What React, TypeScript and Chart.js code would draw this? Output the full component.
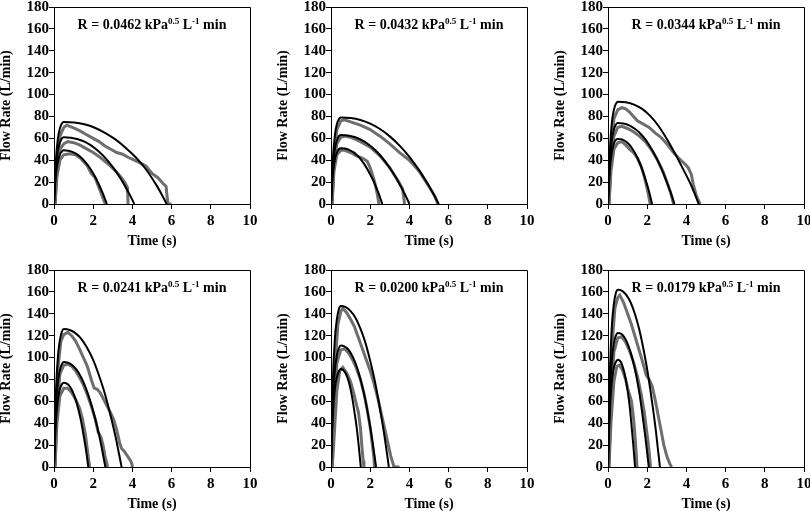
import React, { useEffect, useRef } from 'react';
import { Chart, registerables } from 'chart.js';

Chart.register(...registerables);

type Pt = [number, number];

const xTicks = [0, 2, 4, 6, 8, 10];
const yTicks = [0, 20, 40, 60, 80, 100, 120, 140, 160, 180];
const rValues = ['0.0462', '0.0432', '0.0344', '0.0241', '0.0200', '0.0179'];
const xTitle = 'Time (s)';
const yTitle = 'Flow Rate (L/min)';

// ---- Panel 1 (R = 0.0462) ----
const p1FitHigh: Pt[] = [[0,0],[0.05,22],[0.1,41],[0.2,60],[0.3,69],[0.4,73.5],[0.5,75],[1.03,74.5],[1.55,72.8],[2.08,69.7],[2.6,65],[3.13,59],[3.65,51.5],[4.18,42.5],[4.7,31.5],[5.23,17],[5.49,9],[5.75,0]];
const p1FitMid: Pt[] = [[0,0],[0.05,18],[0.1,33.5],[0.2,49],[0.3,56],[0.4,60],[0.5,61],[0.86,60.6],[1.22,59.2],[1.58,56.7],[1.94,52.9],[2.3,47.7],[2.66,41.2],[3.02,33.2],[3.38,23.7],[3.74,12.6],[3.92,6.5],[4.1,0]];
const p1FitLow: Pt[] = [[0,0],[0.05,15],[0.1,27],[0.2,39],[0.3,45],[0.4,48],[0.5,49],[0.72,48.7],[0.94,47.6],[1.16,45.5],[1.38,42.5],[1.6,38.3],[1.82,33.1],[2.04,26.7],[2.26,19],[2.48,10.1],[2.7,0]];
const p1MeasHigh: Pt[] = [[0.05,0],[0.15,35],[0.3,62],[0.5,70],[0.65,72],[0.8,71],[1.0,69.5],[1.3,67],[1.6,64],[2.0,60],[2.3,57],[2.6,53],[2.9,50],[3.2,47],[3.5,45.5],[3.8,42.5],[4.1,40],[4.4,37.5],[4.7,34.5],[5.0,28],[5.3,24],[5.55,19],[5.72,16],[5.78,5],[5.82,0],[6.0,0]];
const p1MeasMid: Pt[] = [[0.05,0],[0.15,30],[0.3,50],[0.5,55],[0.7,57],[1.0,56],[1.3,54],[1.6,51],[2.0,47],[2.4,42],[2.8,36],[3.1,31],[3.4,25],[3.6,20],[3.75,15],[3.78,0]];
const p1MeasLow: Pt[] = [[0.05,0],[0.15,25],[0.3,40],[0.5,45],[0.8,46],[1.1,45],[1.4,41],[1.7,35],[1.9,28],[2.0,26],[2.1,24],[2.25,17],[2.4,10],[2.55,3],[2.62,0]];

// ---- Panel 2 (R = 0.0432) ----
const p2FitHigh: Pt[] = [[0,0],[0.05,24],[0.1,43],[0.2,63],[0.3,73],[0.4,77.5],[0.5,79],[1.0,78.5],[1.5,76.7],[2.0,73.4],[2.5,68.5],[3.0,61.8],[3.5,53.3],[4.0,43],[4.5,30.7],[5.0,16.4],[5.25,8.5],[5.5,0]];
const p2FitMid: Pt[] = [[0,0],[0.05,19],[0.1,34.5],[0.2,50.5],[0.3,58],[0.4,62],[0.5,63],[0.85,62.6],[1.2,61.2],[1.55,58.5],[1.9,54.6],[2.25,49.3],[2.6,42.5],[2.95,34.3],[3.3,24.4],[3.65,13],[3.83,6.7],[4.0,0]];
const p2FitLow: Pt[] = [[0,0],[0.05,15.5],[0.1,28],[0.2,41],[0.3,47],[0.4,50],[0.5,51],[0.71,50.7],[0.92,49.5],[1.14,47.4],[1.35,44.2],[1.56,39.9],[1.77,34.4],[1.98,27.7],[2.2,19.8],[2.41,10.6],[2.62,0]];
const p2MeasHigh: Pt[] = [[0.05,0],[0.15,40],[0.3,68],[0.5,76],[0.7,77],[1.0,75],[1.5,72],[2.0,68],[2.5,62],[3.0,55],[3.5,47],[4.0,40],[4.5,30],[5.0,16],[5.3,7],[5.45,0]];
const p2MeasMid: Pt[] = [[0.05,0],[0.15,35],[0.3,55],[0.5,61],[0.7,62],[1.0,61],[1.5,57],[2.0,52],[2.5,44],[3.0,33],[3.4,22],[3.65,14],[3.72,5],[3.75,0]];
const p2MeasLow: Pt[] = [[0.05,0],[0.15,30],[0.3,45],[0.5,49],[0.7,49],[1.0,47],[1.3,44],[1.6,42],[1.85,39],[2.0,33],[2.2,22],[2.35,10],[2.45,0]];

// ---- Panel 3 (R = 0.0344) ----
const p3FitHigh: Pt[] = [[0,0],[0.05,28],[0.1,51],[0.2,75],[0.3,86],[0.4,91.5],[0.5,93.5],[0.91,92.9],[1.33,90.8],[1.74,86.9],[2.15,80.5],[2.57,71.5],[2.98,60],[3.39,47],[3.8,33],[4.22,18],[4.42,9.5],[4.63,0]];
const p3FitMid: Pt[] = [[0,0],[0.05,22],[0.1,40.5],[0.2,59],[0.3,68],[0.4,72.5],[0.5,74],[0.79,73.6],[1.08,71.9],[1.37,68.7],[1.66,64.2],[1.95,57.9],[2.23,50],[2.52,40.3],[2.81,28.7],[3.1,15.3],[3.25,7.9],[3.39,0]];
const p3FitLow: Pt[] = [[0,0],[0.05,18],[0.1,33],[0.2,47.5],[0.3,55],[0.4,58.5],[0.5,59.5],[0.68,59.1],[0.85,57.8],[1.03,55.3],[1.2,51.6],[1.38,46.5],[1.55,40.2],[1.73,32.4],[1.9,23.1],[2.08,12.3],[2.25,0]];
const p3MeasHigh: Pt[] = [[0.05,0],[0.15,45],[0.3,78],[0.5,86],[0.7,88],[0.9,87],[1.1,84],[1.3,80],[1.5,76],[1.8,73],[2.1,70],[2.4,65],[2.7,61],[3.0,55],[3.3,48],[3.6,42],[3.9,37],[4.1,33],[4.25,27],[4.35,18],[4.5,8],[4.65,2],[4.7,0]];
const p3MeasMid: Pt[] = [[0.05,0],[0.15,38],[0.3,62],[0.5,70],[0.7,71],[1.0,69],[1.3,66],[1.6,62],[1.9,57],[2.2,50],[2.5,41],[2.8,30],[3.05,18],[3.2,10],[3.3,3],[3.35,0]];
const p3MeasLow: Pt[] = [[0.05,0],[0.15,30],[0.3,50],[0.5,56],[0.7,57],[0.9,54],[1.1,50],[1.3,47],[1.5,42],[1.7,34],[1.85,25],[2.0,14],[2.1,5],[2.15,0]];

// ---- Panel 4 (R = 0.0241) ----
const p4FitHigh: Pt[] = [[0,0],[0.05,38],[0.1,69],[0.2,101],[0.3,116],[0.4,123.5],[0.5,126],[0.8,125.2],[1.09,122.3],[1.39,117.1],[1.68,109.2],[1.98,98.5],[2.27,85],[2.57,68.5],[2.86,48.9],[3.16,26.1],[3.3,13.5],[3.45,0]];
const p4FitMid: Pt[] = [[0,0],[0.05,29],[0.1,53],[0.2,77],[0.3,88.5],[0.4,94],[0.5,96],[0.71,95.4],[0.92,93.2],[1.14,89.2],[1.35,83.2],[1.56,75.1],[1.77,64.8],[1.98,52.2],[2.2,37.2],[2.41,19.9],[2.62,0]];
const p4FitLow: Pt[] = [[0,0],[0.05,23],[0.1,42],[0.2,61.5],[0.3,71],[0.4,75.5],[0.5,77],[0.63,76.5],[0.75,74.8],[0.88,71.5],[1.0,66.8],[1.13,60.2],[1.25,52],[1.38,41.9],[1.5,29.9],[1.63,15.9],[1.75,0]];
const p4MeasHigh: Pt[] = [[0.05,0],[0.1,40],[0.2,90],[0.35,115],[0.5,121],[0.7,123],[0.9,120],[1.1,115],[1.3,108],[1.5,100],[1.7,92],[1.9,80],[2.05,72],[2.2,71],[2.35,68],[2.5,63],[2.7,56],[2.9,49],[3.05,43],[3.2,34],[3.35,22],[3.45,17],[3.6,14],[3.75,10],[3.9,6],[3.97,3],[4.0,0]];
const p4MeasMid: Pt[] = [[0.05,0],[0.15,50],[0.3,85],[0.5,93],[0.7,94],[0.9,92],[1.1,88],[1.3,82],[1.5,75],[1.7,66],[1.9,56],[2.1,44],[2.25,32],[2.4,27],[2.5,20],[2.6,10],[2.7,3],[2.73,0]];
const p4MeasLow: Pt[] = [[0.05,0],[0.15,40],[0.3,65],[0.5,72],[0.7,72],[0.9,68],[1.1,62],[1.3,54],[1.45,44],[1.6,30],[1.7,16],[1.78,5],[1.82,0]];

// ---- Panel 5 (R = 0.0200) ----
const p5FitHigh: Pt[] = [[0,0],[0.05,44],[0.1,81],[0.2,118],[0.3,135],[0.4,144],[0.5,147],[0.75,146.1],[0.99,142.7],[1.24,136.6],[1.48,127.4],[1.73,115],[1.97,99.2],[2.22,80],[2.46,57],[2.71,30.4],[2.83,15.7],[2.95,0]];
const p5FitMid: Pt[] = [[0,0],[0.05,33],[0.1,61],[0.2,89],[0.3,102],[0.4,108.5],[0.5,111],[0.68,110.3],[0.86,107.8],[1.04,103.1],[1.22,96.2],[1.4,86.8],[1.58,74.9],[1.76,60.4],[1.94,43.1],[2.12,23],[2.3,0]];
const p5FitLow: Pt[] = [[0,0],[0.05,27],[0.1,49],[0.2,72],[0.3,82],[0.4,87.5],[0.5,89.5],[0.6,89],[0.7,86.9],[0.81,83.1],[0.91,77.6],[1.01,70],[1.11,60.4],[1.21,48.7],[1.32,34.7],[1.42,18.5],[1.52,0]];
const p5MeasHigh: Pt[] = [[0.05,0],[0.1,30],[0.2,90],[0.35,130],[0.5,142],[0.6,145],[0.8,141],[1.0,135],[1.2,128],[1.4,118],[1.6,108],[1.8,98],[2.0,88],[2.2,76],[2.4,62],[2.6,46],[2.8,30],[2.95,18],[3.05,10],[3.15,4],[3.2,1],[3.3,0],[3.5,0]];
const p5MeasMid: Pt[] = [[0.05,0],[0.15,50],[0.3,95],[0.5,107],[0.7,108],[0.9,104],[1.1,98],[1.3,90],[1.5,80],[1.7,66],[1.85,52],[2.0,36],[2.1,22],[2.18,10],[2.22,0]];
const p5MeasLow: Pt[] = [[0.05,0],[0.1,10],[0.2,40],[0.3,70],[0.45,88],[0.6,91],[0.8,86],[1.0,78],[1.15,68],[1.3,57],[1.4,50],[1.5,36],[1.58,18],[1.64,6],[1.68,0]];

// ---- Panel 6 (R = 0.0179) ----
const p6FitHigh: Pt[] = [[0,0],[0.05,49],[0.1,89],[0.2,130],[0.3,149],[0.4,159],[0.5,162],[0.72,161],[0.93,157.3],[1.15,150.5],[1.36,140.5],[1.58,126.7],[1.79,109.4],[2.01,88.1],[2.22,62.9],[2.44,33.5],[2.54,17.3],[2.65,0]];
const p6FitMid: Pt[] = [[0,0],[0.05,37],[0.1,67],[0.2,98],[0.3,113],[0.4,120],[0.5,122.5],[0.66,121.8],[0.82,119],[0.97,113.8],[1.13,106.2],[1.29,95.8],[1.45,82.7],[1.61,66.6],[1.76,47.5],[1.92,25.4],[2.08,0]];
const p6FitLow: Pt[] = [[0,0],[0.05,29],[0.1,54],[0.2,79],[0.3,91],[0.4,96],[0.5,98],[0.59,97.4],[0.68,95.2],[0.76,91],[0.85,85],[0.94,76.6],[1.03,66.2],[1.12,53.3],[1.2,38],[1.29,20.3],[1.38,0]];
const p6MeasHigh: Pt[] = [[0.05,0],[0.1,40],[0.2,110],[0.35,145],[0.5,155],[0.6,157],[0.8,150],[1.0,140],[1.2,130],[1.4,118],[1.6,106],[1.8,94],[1.95,84],[2.1,80],[2.25,74],[2.4,62],[2.55,48],[2.7,34],[2.85,20],[3.0,10],[3.15,3],[3.25,0]];
const p6MeasMid: Pt[] = [[0.05,0],[0.15,60],[0.3,105],[0.5,118],[0.7,119],[0.9,114],[1.1,106],[1.3,96],[1.5,83],[1.7,66],[1.85,50],[1.95,36],[2.05,22],[2.12,10],[2.17,0]];
const p6MeasLow: Pt[] = [[0.05,0],[0.15,40],[0.3,78],[0.45,92],[0.6,93],[0.75,88],[0.9,80],[1.0,72],[1.1,66],[1.2,60],[1.3,45],[1.38,28],[1.44,12],[1.48,0]];

const panels = [
  { r: rValues[0], fits: [p1FitHigh, p1FitMid, p1FitLow], meas: [p1MeasHigh, p1MeasMid, p1MeasLow], col: 0, row: 0 },
  { r: rValues[1], fits: [p2FitHigh, p2FitMid, p2FitLow], meas: [p2MeasHigh, p2MeasMid, p2MeasLow], col: 1, row: 0 },
  { r: rValues[2], fits: [p3FitHigh, p3FitMid, p3FitLow], meas: [p3MeasHigh, p3MeasMid, p3MeasLow], col: 2, row: 0 },
  { r: rValues[3], fits: [p4FitHigh, p4FitMid, p4FitLow], meas: [p4MeasHigh, p4MeasMid, p4MeasLow], col: 0, row: 1 },
  { r: rValues[4], fits: [p5FitHigh, p5FitMid, p5FitLow], meas: [p5MeasHigh, p5MeasMid, p5MeasLow], col: 1, row: 1 },
  { r: rValues[5], fits: [p6FitHigh, p6FitMid, p6FitLow], meas: [p6MeasHigh, p6MeasMid, p6MeasLow], col: 2, row: 1 },
];

const PLOT_LEFTS = [54, 331, 608];
const PLOT_TOPS = [7, 270];
const Y_AXIS_W = 56;
const X_AXIS_H = 46;
const PAD_TOP = 10;
const PAD_RIGHT = 14;
const PLOT_W = 196;
const PLOT_H = 197;
const FONT = '"Liberation Serif", "Times New Roman", serif';

function Panel({ cfg }: { cfg: typeof panels[number] }) {
  const ref = useRef<HTMLCanvasElement | null>(null);
  useEffect(() => {
    if (!ref.current) return;
    const rLabel = {
      id: 'rLabel',
      afterDraw(chart: any) {
        const { ctx, chartArea } = chart;
        const big = `bold 14px ${FONT}`;
        const small = `bold 9px ${FONT}`;
        const parts = [
          { t: 'R = ' + cfg.r + ' kPa', sup: false },
          { t: '0.5', sup: true },
          { t: ' L', sup: false },
          { t: '-1', sup: true },
          { t: ' min', sup: false },
        ];
        ctx.save();
        let total = 0;
        const widths = parts.map((p) => {
          ctx.font = p.sup ? small : big;
          const w = ctx.measureText(p.t).width;
          total += w;
          return w;
        });
        let x = (chartArea.left + chartArea.right) / 2 - total / 2;
        const y = chartArea.top + 22;
        ctx.fillStyle = '#000';
        ctx.textBaseline = 'alphabetic';
        ctx.textAlign = 'left';
        parts.forEach((p, i) => {
          ctx.font = p.sup ? small : big;
          ctx.fillText(p.t, x, p.sup ? y - 5 : y);
          x += widths[i];
        });
        // frame (top and right sides of the plot box)
        ctx.strokeStyle = '#000';
        ctx.lineWidth = 1;
        ctx.beginPath();
        ctx.moveTo(Math.round(chartArea.left) + 0.5, Math.round(chartArea.top) + 0.5);
        ctx.lineTo(Math.round(chartArea.right) + 0.5, Math.round(chartArea.top) + 0.5);
        ctx.lineTo(Math.round(chartArea.right) + 0.5, Math.round(chartArea.bottom) + 0.5);
        ctx.stroke();
        ctx.restore();
      },
    };
    const fitSets = cfg.fits.map((d) => ({
      data: d.map(([x, y]) => ({ x, y })),
      borderColor: '#000',
      borderWidth: 2,
      pointRadius: 0,
      showLine: true,
      cubicInterpolationMode: 'monotone' as const,
      fill: false,
    }));
    const measSets = cfg.meas.map((d) => ({
      data: d.map(([x, y]) => ({ x, y })),
      borderColor: '#6e6e6e',
      borderWidth: 3,
      pointRadius: 0,
      showLine: true,
      tension: 0,
      fill: false,
    }));
    const tickFont = { family: FONT, size: 15, weight: 'bold' as const };
    const titleFont = { family: FONT, size: 14, weight: 'bold' as const };
    const chart = new Chart(ref.current, {
      type: 'scatter',
      data: { datasets: [...fitSets, ...measSets] },
      plugins: [rLabel],
      options: {
        animation: false,
        responsive: false,
        maintainAspectRatio: false,
        layout: { padding: { top: PAD_TOP, right: PAD_RIGHT, left: 0, bottom: 0 } },
        plugins: { legend: { display: false }, tooltip: { enabled: false }, title: { display: false } },
        scales: {
          x: {
            type: 'linear',
            min: xTicks[0],
            max: xTicks[xTicks.length - 1],
            afterBuildTicks: (s: any) => { s.ticks = xTicks.map((v) => ({ value: v })); },
            afterFit: (s: any) => { s.height = X_AXIS_H; },
            ticks: { color: '#000', font: tickFont, padding: 3, maxRotation: 0, autoSkip: false },
            grid: { drawOnChartArea: false, drawTicks: true, tickLength: 5, tickColor: '#000', tickWidth: 1 },
            border: { display: true, color: '#000', width: 1 },
            title: { display: true, text: xTitle, color: '#000', font: titleFont, padding: { top: 0, bottom: 0 } },
          },
          y: {
            type: 'linear',
            min: yTicks[0],
            max: yTicks[yTicks.length - 1],
            afterBuildTicks: (s: any) => { s.ticks = yTicks.map((v) => ({ value: v })); },
            afterFit: (s: any) => { s.width = Y_AXIS_W; },
            ticks: { color: '#000', font: tickFont, padding: 0, autoSkip: false },
            grid: { drawOnChartArea: false, drawTicks: true, tickLength: 5, tickColor: '#000', tickWidth: 1 },
            border: { display: true, color: '#000', width: 1 },
            title: { display: true, text: yTitle, color: '#000', font: titleFont, padding: { top: 0, bottom: 0 } },
          },
        },
      },
    });
    return () => chart.destroy();
  }, [cfg]);

  const left = PLOT_LEFTS[cfg.col] - Y_AXIS_W;
  const top = PLOT_TOPS[cfg.row] - PAD_TOP;
  const w = Y_AXIS_W + PLOT_W + PAD_RIGHT;
  const h = PAD_TOP + PLOT_H + X_AXIS_H;
  return (
    <canvas
      ref={ref}
      width={w}
      height={h}
      style={{ position: 'absolute', left, top, width: w, height: h }}
    />
  );
}

export default function App() {
  return (
    <div style={{ position: 'fixed', left: 0, top: 0, width: 810, height: 511, overflow: 'hidden', background: '#fff' }}>
      {panels.map((p, i) => (
        <Panel key={i} cfg={p} />
      ))}
    </div>
  );
}
